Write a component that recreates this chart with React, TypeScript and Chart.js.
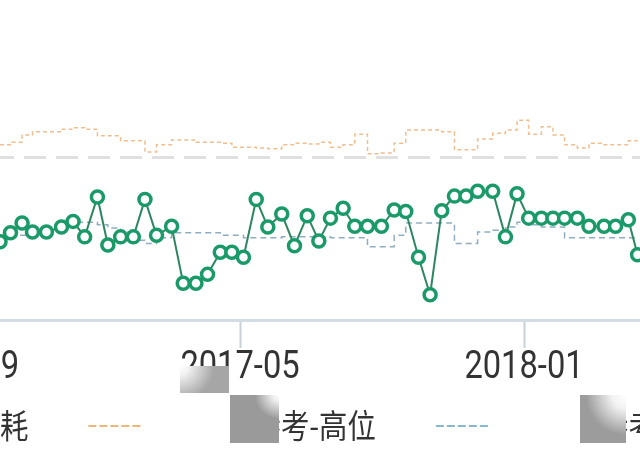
import { useEffect, useRef } from 'react';
import { Chart, registerables } from 'chart.js';

Chart.register(...registerables);

// ---- data ----
const dates = [
  '2016-10-06', '2016-10-15', '2016-10-25', '2016-11-03', '2016-11-15', '2016-11-28',
  '2016-12-08', '2016-12-18', '2016-12-29', '2017-01-07', '2017-01-18', '2017-01-29',
  '2017-02-08', '2017-02-18', '2017-03-03', '2017-03-13', '2017-03-24', '2017-04-03',
  '2017-04-14', '2017-04-24', '2017-05-04', '2017-05-15', '2017-05-25', '2017-06-06',
  '2017-06-17', '2017-06-28', '2017-07-08', '2017-07-18', '2017-07-29', '2017-08-08',
  '2017-08-19', '2017-08-31', '2017-09-11', '2017-09-21', '2017-10-02', '2017-10-12',
  '2017-10-22', '2017-11-02', '2017-11-12', '2017-11-22', '2017-12-05', '2017-12-16',
  '2017-12-26', '2018-01-05', '2018-01-16', '2018-01-26', '2018-02-05', '2018-02-16',
  '2018-02-26', '2018-03-11', '2018-03-21', '2018-04-01', '2018-04-09',
];

const fuelValues = [
  6.96, 7.07, 7.19, 7.08, 7.08, 7.14, 7.21, 7.02, 7.51, 6.92,
  7.02, 7.02, 7.48, 7.04, 7.15, 6.45, 6.45, 6.56, 6.83, 6.83,
  6.77, 7.48, 7.14, 7.30, 6.91, 7.28, 6.97, 7.25, 7.37, 7.15,
  7.15, 7.15, 7.35, 7.33, 6.77, 6.31, 7.34, 7.52, 7.52, 7.58,
  7.58, 7.02, 7.55, 7.25, 7.25, 7.25, 7.25, 7.25, 7.15, 7.15,
  7.15, 7.23, 6.80,
];

const refHighValues = [
  8.15, 8.18, 8.27, 8.31, 8.31, 8.34, 8.36, 8.34, 8.26, 8.26,
  8.20, 8.20, 8.06, 8.15, 8.21, 8.21, 8.18, 8.18, 8.17, 8.12,
  8.12, 8.11, 8.10, 8.15, 8.17, 8.16, 8.18, 8.12, 8.15, 8.28,
  8.04, 8.05, 8.17, 8.33, 8.33, 8.33, 8.31, 8.09, 8.09, 8.22,
  8.29, 8.33, 8.45, 8.28, 8.37, 8.27, 8.15, 8.11, 8.17, 8.15,
  8.15, 8.20, 8.20,
];

const refLowValues = [
  7.04, 7.04, 7.04, 7.04, 7.08, 7.13, 7.20, 7.20, 7.17, 7.13,
  7.08, 6.98, 6.94, 7.01, 7.07, 7.07, 7.07, 7.07, 7.04, 7.04,
  7.01, 7.01, 7.01, 7.02, 7.02, 7.02, 7.02, 7.01, 7.01, 7.01,
  6.90, 6.90, 7.04, 7.19, 7.19, 7.19, 7.19, 6.94, 6.94, 7.08,
  7.10, 7.14, 7.20, 7.17, 7.14, 7.14, 7.01, 7.01, 7.01, 7.01,
  7.01, 7.01, 7.01,
];

const seriesLabels = ['油耗', '同车型参考-高位', '同车型参考-低位'];
const tickMonths = ['2016-09', '2017-05', '2018-01', '2018-09'];
const yGridValues = [8];
const yMin = 6;
const yMax = 10;
const anchorDate = '2017-05-01';
const halfSpanDays = 490;

// ---- helpers ----
const DAY = 86400000;
const toMs = (s: string) => {
  const [y, m, d] = s.split('-').map(Number);
  return Date.UTC(y, m - 1, d || 1);
};

const SX = 0.86;

const condensedText = {
  id: 'condensedText',
  afterDraw(chart: any) {
    const ctx = chart.ctx as CanvasRenderingContext2D;
    const xs = chart.scales.x;
    ctx.save();
    ctx.fillStyle = '#333333';
    ctx.textBaseline = 'alphabetic';

    // tick labels
    ctx.textAlign = 'center';
    ctx.font = '38px Roboto';
    xs.ticks.forEach((t: any, i: number) => {
      const px = xs.getPixelForValue(t.value);
      ctx.save();
      ctx.translate(px, xs.top + 58);
      ctx.scale(SX, 1);
      ctx.fillText(tickMonths[i], 0, 0);
      ctx.restore();
    });

    // legend
    ctx.textAlign = 'left';
    ctx.font = '33px "Noto Sans CJK SC"';
    const sample = 53;
    const gap = 26;
    const itemGap = 60;
    const ds = chart.data.datasets;
    const widths = ds.map((d: any) => sample + gap + ctx.measureText(d.label).width * SX);
    const total = widths.reduce((a: number, b: number) => a + b, 0) + itemGap * (ds.length - 1);
    let x = chart.width / 2 - total / 2;
    const baseY = xs.top + 118;
    const midY = baseY - 12;
    ds.forEach((d: any, i: number) => {
      ctx.save();
      ctx.strokeStyle = d.legendColor || d.borderColor;
      ctx.lineWidth = 2;
      ctx.setLineDash(d.legendDash || []);
      ctx.beginPath();
      ctx.moveTo(x, midY);
      ctx.lineTo(x + sample, midY);
      ctx.stroke();
      if (d.pointRadius > 0) {
        ctx.setLineDash([]);
        ctx.lineWidth = d.pointBorderWidth;
        ctx.strokeStyle = d.pointBorderColor;
        ctx.fillStyle = '#ffffff';
        ctx.beginPath();
        ctx.arc(x + sample / 2, midY, d.pointRadius, 0, Math.PI * 2);
        ctx.fill();
        ctx.stroke();
      }
      ctx.restore();
      ctx.save();
      ctx.translate(x + sample + gap, baseY);
      ctx.scale(SX, 1);
      ctx.fillText(d.label, 0, 0);
      ctx.restore();
      x += widths[i] + itemGap;
    });
    ctx.restore();
  },
};

export default function App() {
  const ref = useRef<HTMLCanvasElement | null>(null);

  useEffect(() => {
    if (!ref.current) return;
    const xs = dates.map(toMs);
    const anchor = toMs(anchorDate);
    const chart = new Chart(ref.current, {
      type: 'line',
      data: {
        datasets: [
          {
            label: seriesLabels[0],
            data: xs.map((x, i) => ({ x, y: fuelValues[i] })),
            borderColor: '#2c8660',
            borderWidth: 2,
            pointRadius: 6,
            pointBorderWidth: 3.5,
            pointBorderColor: '#1a9a69',
            pointBackgroundColor: '#ffffff',
            tension: 0,
          } as any,
          {
            label: seriesLabels[1],
            data: xs.map((x, i) => ({ x, y: refHighValues[i] })),
            borderColor: '#efbf92',
            legendColor: '#ecb87a',
            borderWidth: 1.5,
            borderDash: [4, 3],
            legendDash: [8, 3],
            stepped: 'before',
            pointRadius: 0,
          } as any,
          {
            label: seriesLabels[2],
            data: xs.map((x, i) => ({ x, y: refLowValues[i] })),
            borderColor: '#8fadc0',
            legendColor: '#88b8cf',
            borderWidth: 1.5,
            borderDash: [6, 4],
            legendDash: [8, 3],
            stepped: 'before',
            pointRadius: 0,
          } as any,
        ],
      },
      options: {
        responsive: false,
        animation: false,
        events: [],
        layout: { padding: { top: 14, right: 136, left: 0, bottom: 0 }, autoPadding: false },
        plugins: { legend: { display: false }, tooltip: { enabled: false } },
        scales: {
          x: {
            type: 'linear',
            min: anchor - halfSpanDays * DAY,
            max: anchor + halfSpanDays * DAY,
            afterBuildTicks: (s: any) => {
              s.ticks = tickMonths.map((m) => ({ value: toMs(m) }));
            },
            afterFit: (s: any) => {
              s.height = 137;
            },
            ticks: { display: false },
            grid: {
              drawOnChartArea: false,
              drawTicks: true,
              tickLength: 28,
              tickWidth: 2,
              tickColor: '#c8d0d9',
            },
            border: { display: true, color: '#d3dbe4', width: 3 },
          },
          y: {
            min: yMin,
            max: yMax,
            afterBuildTicks: (s: any) => {
              s.ticks = yGridValues.map((v) => ({ value: v }));
            },
            afterFit: (s: any) => {
              s.width = 0;
            },
            ticks: { display: false },
            grid: { color: '#e0e0e0', lineWidth: 3, drawTicks: false },
            border: { display: false, dash: [22, 10] },
          },
        },
      } as any,
      plugins: [condensedText],
    });
    return () => chart.destroy();
  }, []);

  const box = (s: any) => <div style={{ position: 'absolute', ...s }} />;

  return (
    <div
      style={{
        position: 'absolute',
        left: 0,
        top: 0,
        width: 640,
        height: 457,
        overflow: 'hidden',
        background: '#ffffff',
      }}
    >
      <canvas
        ref={ref}
        width={1272}
        height={477}
        style={{ position: 'absolute', left: -328, top: -20, width: 1272, height: 477 }}
      />
      {box({ left: 180, top: 366, width: 49, height: 27, background: 'radial-gradient(circle at 0% 0%, #ffffff 0px, #f4f4f4 8px, #a6a6a6 34px)' })}
      {box({ left: 157, top: 393, width: 73, height: 54, background: '#ffffff' })}
      {box({ left: 230, top: 395, width: 49, height: 48, background: 'radial-gradient(circle at 100% 0%, #ffffff 0px, #f0f0f0 6px, #9a9a9a 24px)' })}
      {box({ left: 490, top: 393, width: 90, height: 54, background: '#ffffff' })}
      {box({ left: 580, top: 395, width: 46, height: 48, background: 'radial-gradient(circle at 100% 0%, #ffffff 0px, #f2f2f2 14px, #9c9c9c 40px)' })}
    </div>
  );
}
